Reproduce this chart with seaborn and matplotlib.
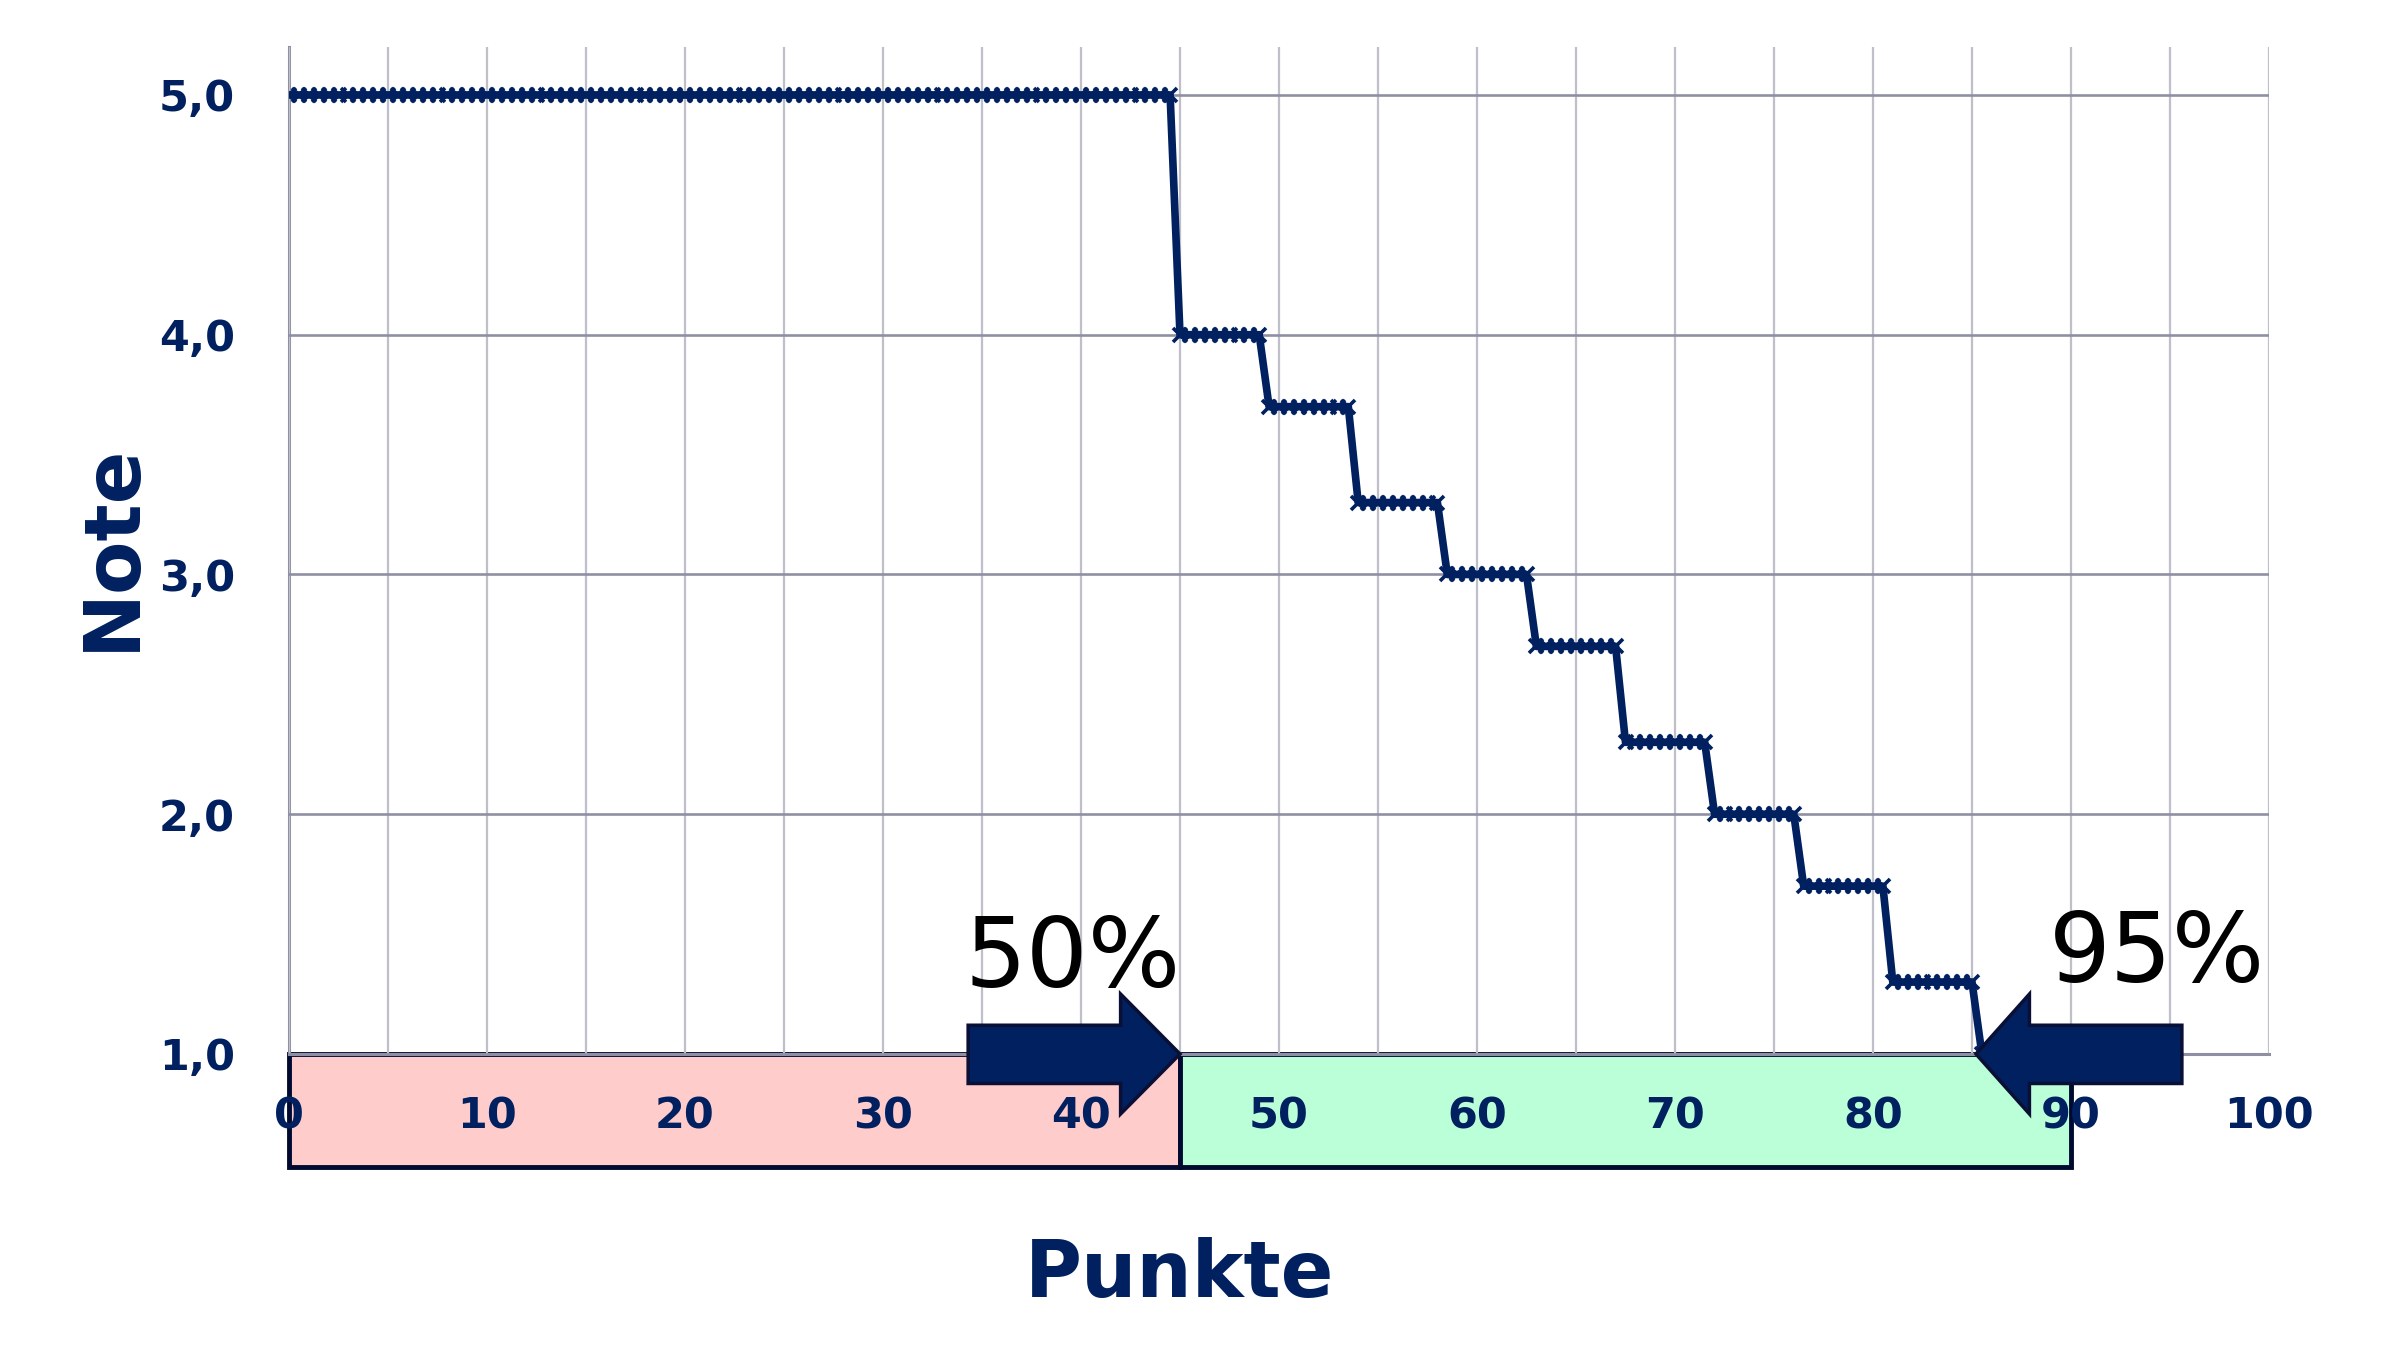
import numpy as np
import pandas as pd
import matplotlib
matplotlib.use("Agg")
import matplotlib.pyplot as plt
from matplotlib.ticker import MultipleLocator, FuncFormatter
from matplotlib.patches import Rectangle, Polygon
import seaborn as sns

# ---- data ----
grade_levels = [5.0, 4.0, 3.7, 3.3, 3.0, 2.7, 2.3, 2.0, 1.7, 1.3, 1.0]
level_start = [0.0, 45.0, 49.5, 54.0, 58.5, 63.0, 67.5, 72.0, 76.5, 81.0, 85.5]
level_end = [44.5, 49.0, 53.5, 58.0, 62.5, 67.0, 71.5, 76.0, 80.5, 85.0, 85.5]
point_step = 0.5
band_start = [0, 45]
band_end = [45, 90]
band_colors = ["#ffcccc", "#bbffd9"]
pct_labels = ["50%", "95%"]
pct_points = [45.0, 85.2]

pts, grades = [], []
for g, s, e in zip(grade_levels, level_start, level_end):
    xs = np.arange(s, e + point_step / 2, point_step)
    pts.extend(xs)
    grades.extend([g] * len(xs))
df = pd.DataFrame({"Punkte": pts, "Note": grades})

NAVY = "#00205f"
GRID_H = "#8e8fa3"
GRID_V = "#bfbfca"

sns.set_theme(style="white")
plt.rcParams["font.family"] = ["DejaVu Sans"]

fig = plt.figure(figsize=(23.99, 13.51), dpi=100)
ax = fig.add_axes([289 / 2399, 1 - 1054 / 1351, (2269 - 289) / 2399, (1054 - 47) / 1351])
ax.set_axisbelow(False)

sns.lineplot(data=df, x="Punkte", y="Note", ax=ax, color=NAVY, lw=5.5,
             marker="x", markersize=10, markeredgewidth=2.6, markeredgecolor=NAVY,
             zorder=3, estimator=None)

ax.set_xlim(0, 100)
ax.set_ylim(1.0, 5.2)

ax.xaxis.set_major_locator(MultipleLocator(10))
ax.xaxis.set_minor_locator(MultipleLocator(5))
ax.yaxis.set_major_locator(MultipleLocator(1))
ax.yaxis.set_minor_locator(MultipleLocator(1 / 3))
ax.yaxis.set_major_formatter(FuncFormatter(lambda v, _: f"{v:.1f}".replace(".", ",")))

ax.grid(which="both", axis="x", color=GRID_V, lw=1.6, zorder=0.5)
ax.grid(which="major", axis="y", color=GRID_H, lw=1.9, zorder=0.5)

for side in ["top", "right"]:
    ax.spines[side].set_visible(False)
for side in ["left", "bottom"]:
    ax.spines[side].set_color(GRID_H)
    ax.spines[side].set_linewidth(2.2)

ax.tick_params(axis="both", which="major", direction="out", length=11, width=2,
               color=GRID_H, labelsize=31, labelcolor=NAVY)
ax.tick_params(axis="x", which="major", pad=19)
ax.tick_params(axis="y", which="major", pad=28)
ax.tick_params(axis="both", which="minor", direction="in", length=9, width=2, color=GRID_H)
for lab in ax.get_xticklabels() + ax.get_yticklabels():
    lab.set_fontweight("bold")

ax.set_xlabel("")
ax.set_ylabel("")

# bands below the axis
for s, e, c in zip(band_start, band_end, band_colors):
    ax.add_patch(Rectangle((s, 0.529), e - s, 1.0 - 0.529, facecolor=c,
                           edgecolor="#000a30", lw=3.5, clip_on=False, zorder=1))

# block arrows
def block_arrow(tip_x, direction, body_len, head_len):
    d = direction
    yb, yt = 0.877, 1.12
    hb, ht = 0.75, 1.25
    base = tip_x - d * head_len
    tail = base - d * body_len
    verts = [(tail, yb), (base, yb), (base, hb), (tip_x, 1.0),
             (base, ht), (base, yt), (tail, yt)]
    ax.add_patch(Polygon(verts, closed=True, facecolor="#002060",
                         edgecolor="#0a1035", lw=2.5, clip_on=False, zorder=5))

block_arrow(pct_points[0], 1, 42.0 - 34.3, 45.0 - 42.0)
block_arrow(pct_points[1], -1, 95.6 - 87.9, 87.9 - 85.2)

ax.text(34.1, 1.28, pct_labels[0], fontsize=70, color="black", ha="left",
        va="baseline", zorder=6)
ax.text(88.9, 1.30, pct_labels[1], fontsize=70, color="black", ha="left",
        va="baseline", zorder=6)

fig.text(1180 / 2399, 1 - 1297 / 1351, "Punkte", fontsize=56, fontweight="bold",
         color=NAVY, ha="center", va="baseline")
fig.text(112 / 2399, 1 - 547 / 1351, "Note", fontsize=56, fontweight="bold",
         color=NAVY, ha="center", va="center", rotation=90)

fig.savefig("out.png", dpi=100)
